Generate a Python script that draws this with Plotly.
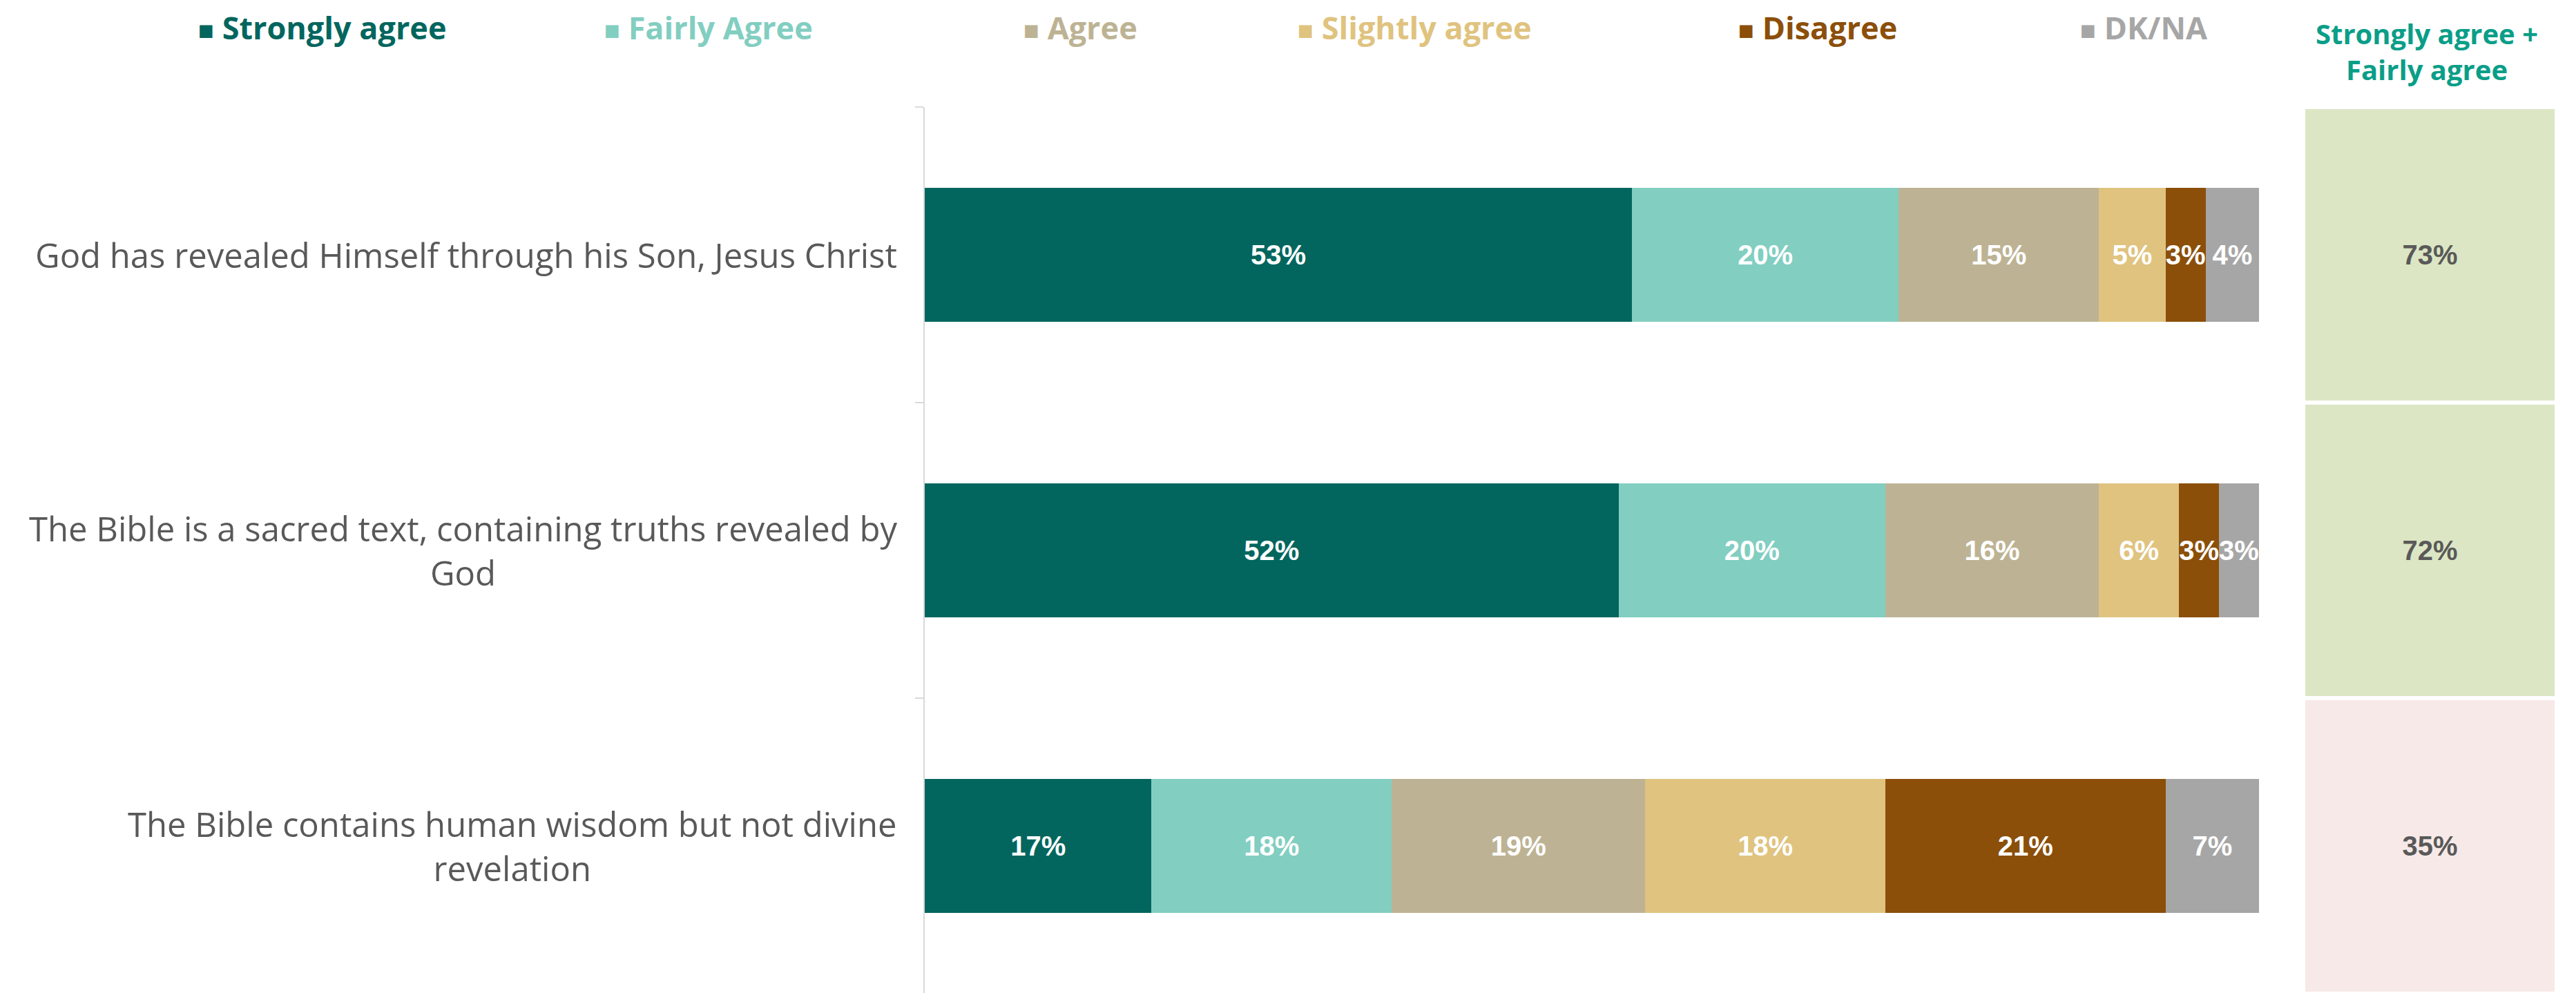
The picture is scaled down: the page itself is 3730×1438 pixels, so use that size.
import plotly.graph_objects as go

# statements, top to bottom
statements = [
    "God has revealed Himself through his Son, Jesus Christ",
    "The Bible is a sacred text, containing truths revealed by<br>God",
    "The Bible contains human wisdom but not divine<br>revelation",
]
row_keys = ["s1", "s2", "s3"]

series = ["Strongly agree", "Fairly Agree", "Agree", "Slightly agree", "Disagree", "DK/NA"]
strongly_agree = [53, 52, 17]
fairly_agree = [20, 20, 18]
agree = [15, 16, 19]
slightly_agree = [5, 6, 18]
disagree = [3, 3, 21]
dk_na = [4, 3, 7]

colors = ["#03665e", "#82cec1", "#bdb394", "#dfc37f", "#8b4f0a", "#a6a6a6"]
net_colors = ["#dce6c4", "#dce6c4", "#f7e9e8"]

values = [strongly_agree, fairly_agree, agree, slightly_agree, disagree, dk_na]
net = [a + b for a, b in zip(strongly_agree, fairly_agree)]

W, H = 3730, 1438
OFF = 8  # page body margin
T, B = 155 - OFF, 7
LABEL_FONT = "Open Sans"
NUM_FONT = "Liberation Sans"


def px_x(p):
    return (p - OFF) / W


def px_y(p):
    return (H - B - (p - OFF)) / (H - T - B)


fig = go.Figure()

for name, vals, col in zip(series, values, colors):
    fig.add_trace(go.Bar(
        y=row_keys, x=vals, name=name, orientation="h",
        marker=dict(color=col, line=dict(width=0)),
        text=[f"{v}%" for v in vals],
        textposition="inside", insidetextanchor="middle",
        textangle=0, constraintext="none",
        textfont=dict(family=NUM_FONT, size=40, color="white", weight="bold"),
        xaxis="x", yaxis="y", showlegend=False,
    ))

# net column on the right
fig.add_trace(go.Bar(
    y=row_keys, x=[1, 1, 1], orientation="h", width=0.985,
    marker=dict(color=net_colors, line=dict(width=0)),
    text=[f"{v}%" for v in net],
    textposition="inside", insidetextanchor="middle",
    textangle=0, constraintext="none",
    textfont=dict(family=NUM_FONT, size=40, color="#595959", weight="bold"),
    xaxis="x2", yaxis="y", showlegend=False,
))

fig.update_layout(
    width=W, height=H,
    margin=dict(l=0, r=0, t=T, b=B),
    paper_bgcolor="white", plot_bgcolor="white",
    barmode="stack", bargap=0.545,
    xaxis=dict(domain=[px_x(1339), px_x(3271)], range=[0, 100], visible=False),
    xaxis2=dict(domain=[px_x(3338), px_x(3699)], range=[0, 1], visible=False, anchor="y"),
    yaxis=dict(
        type="category", categoryorder="array", categoryarray=row_keys,
        range=[2.5, -0.5], showticklabels=False, showgrid=False,
        showline=True, linecolor="#d9d9d9", linewidth=2,
        ticks="outside", tickson="boundaries", ticklen=12,
        tickcolor="#d9d9d9", tickwidth=2, anchor="x",
    ),
)

# statement labels
for key, txt in zip(row_keys, statements):
    fig.add_annotation(
        x=px_x(1301), xref="paper", xanchor="right",
        y=key, yref="y", yanchor="middle",
        text=txt, align="center", showarrow=False,
        font=dict(family=LABEL_FONT, size=49, color="#595959"),
    )

# legend as coloured text
legend_x = [285, 873, 1480, 1877, 2515, 3010]
for name, col, lx in zip(series, colors, legend_x):
    fig.add_annotation(
        x=px_x(lx), xref="paper", xanchor="left",
        y=px_y(39), yref="paper", yanchor="middle",
        text=f'<span style="font-size:38px">■</span> {name}',
        showarrow=False,
        font=dict(family=LABEL_FONT, size=45, color=col, weight="bold"),
    )

fig.add_annotation(
    x=px_x(3514), xref="paper", xanchor="center",
    y=px_y(74), yref="paper", yanchor="middle",
    text="Strongly agree +<br>Fairly agree", align="center", showarrow=False,
    font=dict(family=LABEL_FONT, size=40, color="#0a9e88", weight="bold"),
)

fig.write_html("out.html")
